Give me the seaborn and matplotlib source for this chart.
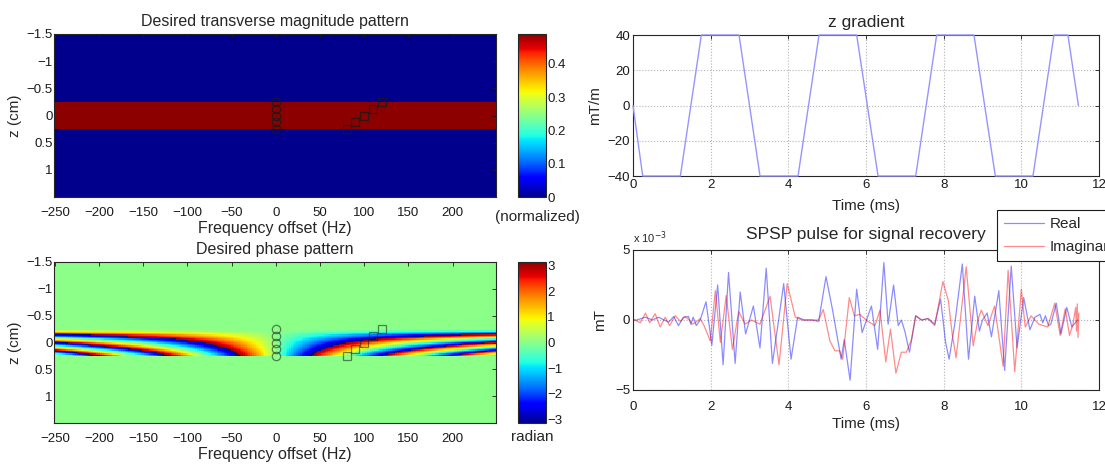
import numpy as np
import matplotlib
matplotlib.use('Agg')
import matplotlib.pyplot as plt
from matplotlib.colors import ListedColormap
import seaborn as sns

# ---- values ----
freq_ticks = [-250, -200, -150, -100, -50, 0, 50, 100, 150, 200]
z_ticks = [-1.5, -1, -0.5, 0, 0.5, 1]
band_z = [-0.25, 0.25]          # slab edges (cm)
band_mag = 0.49                 # normalized magnitude inside the slab
# per-row delay (ms) of the desired phase inside the slab, top row -> bottom row
row_delay_ms = [0.0, 0.34, 1.0, 1.7, 2.4, 3.0, 3.7, 4.4, 5.1, 5.7,
                6.4, 7.1, 7.8, 8.4, 9.1, 9.8, 10.5, 11.1, 11.8, 12.5]
circle_f = [0, 0, 0, 0, 0]
circle_z = [-0.25, -0.125, 0, 0.125, 0.25]
square_f = [80, 90, 100, 110, 120]
square_z = [0.25, 0.125, 0, -0.125, -0.25]

grad_t = [0, 0.25, 1.22, 1.76, 2.73, 3.27, 4.25, 4.79, 5.76, 6.31, 7.28,
          7.82, 8.78, 9.33, 10.30, 10.84, 11.2, 11.47]
grad_v = [0, -40, -40, 40, 40, -40, -40, 40, 40, -40, -40,
          40, 40, -40, -40, 40, 40, 0]

# SPSP pulse (x 1e-3 mT)
real_t = [0, 0.1, 0.32, 0.5, 0.66, 0.8, 0.92, 1.05, 1.17, 1.30, 1.43, 1.49, 1.55,
          1.63, 1.73, 1.88, 2.03, 2.18, 2.32, 2.46, 2.63, 2.76, 2.90, 3.10, 3.27,
          3.43, 3.59, 3.75, 3.88, 4.07, 4.24, 4.40, 4.60, 4.78, 4.97, 5.14, 5.36,
          5.44, 5.59, 5.76, 5.90, 6.14, 6.30, 6.46, 6.57, 6.71, 6.83, 6.91, 7.00,
          7.12, 7.28, 7.43, 7.60, 7.77, 7.92, 8.05, 8.14, 8.29, 8.48, 8.64, 8.80,
          8.92, 9.00, 9.12, 9.23, 9.42, 9.57, 9.74, 9.89, 10.06, 10.22, 10.35,
          10.48, 10.55, 10.62, 10.70, 10.76, 10.90, 11.02, 11.17, 11.30, 11.45]
real_v = [0, 0.0, 0.2, 0.0, 0.2, 0.0, -0.15, 0.25, -0.4, 0.2, 0.25, -0.3, 0.2,
          -0.4, 0.0, 1.3, -1.8, 2.5, -3.2, 3.4, -3.1, 2.0, -1.0, 1.0, -2.0,
          3.7, -3.1, 0.0, 2.6, -2.8, 0.2, 0.0, 0.0, -0.1, 3.1, 0.7, -2.8,
          -1.4, -4.3, 2.2, -0.9, 1.0, -2.1, 4.1, -0.3, 2.5, -0.4, 0.0, -0.8,
          -2.3, 0.3, 0.0, 0.1, -0.3, 1.5, -1.6, -2.8, -0.2, 4.0, -2.8, 1.7,
          -0.8, 0.0, 0.5, -1.2, 2.1, -3.6, 3.85, -2.0, 1.6, -0.7, 0.2,
          0.4, -0.2, 0.3, -0.4, -0.3, 1.2, -1.0, 0.9, -0.5, 0.0]
imag_t = [0, 0.19, 0.32, 0.43, 0.57, 0.70, 0.83, 0.94, 1.09, 1.22, 1.34, 1.45,
          1.52, 1.60, 1.73, 1.83, 1.99, 2.12, 2.25, 2.40, 2.56, 2.72, 2.89, 3.05,
          3.27, 3.53, 3.76, 3.97, 4.18, 4.35, 4.60, 4.78, 4.90, 5.07, 5.20, 5.32,
          5.40, 5.57, 5.70, 5.84, 6.05, 6.23, 6.36, 6.51, 6.63, 6.77, 6.91, 7.04,
          7.17, 7.28, 7.43, 7.60, 7.77, 7.98, 8.12, 8.22, 8.32, 8.58, 8.76, 8.88,
          8.97, 9.14, 9.31, 9.53, 9.66, 9.83, 10.0, 10.10, 10.25, 10.45, 10.68,
          10.86, 11.00, 11.13, 11.24, 11.33, 11.40, 11.42, 11.44, 11.46, 11.48]
imag_v = [0.05, -0.2, 0.5, -0.2, 0.45, -0.5, 0.2, -0.4, 0.3, -0.1, 0.25, 0.0,
          -0.3, -0.2, 0.1, -0.4, -1.5, 2.1, -1.6, 1.75, -2.1, 0.6, -0.3, 0.0,
          -0.3, 1.7, -3.2, 2.6, 0.2, 0.0, 0.0, 0.0, 0.75, -1.5, -2.2, -2.2,
          -2.8, 1.6, 0.3, 0.4, -0.1, -0.4, 0.7, -3.0, -0.65, -3.8, -2.3, -2.3,
          -1.4, 0.3, 0.0, 0.1, -0.4, 2.75, 1.4, -1.0, -2.7, 3.8, -1.85, 0.0,
          0.7, -0.4, 1.0, -3.3, 3.55, -3.7, 2.2, -0.5, 0.3, -0.3, -0.5,
          1.2, -1.1, 0.8, -1.1, -0.3, 0.9, -0.8, 1.15, -1.25, 0.5]

# ---- style ----
sns.set_theme(style='white')
plt.rcParams['font.family'] = ['Liberation Sans', 'DejaVu Sans']
plt.rcParams.update({
    'xtick.direction': 'in', 'ytick.direction': 'in',
    'xtick.top': True, 'ytick.right': True,
    'xtick.major.size': 3, 'ytick.major.size': 3,
    'xtick.major.width': 0.6, 'ytick.major.width': 0.6,
    'xtick.labelsize': 9.5, 'ytick.labelsize': 9.5,
    'axes.edgecolor': '0.15', 'axes.linewidth': 0.8,
    'axes.labelsize': 11, 'axes.titlesize': 11.5,
    'xtick.color': '0.1', 'ytick.color': '0.1',
})

# slightly lighter jet, like the screenshot
jet_soft = ListedColormap(plt.get_cmap('jet')(np.linspace(0, 1, 256))[:, :3] ** 0.85)

W, H = 1105, 466
fig = plt.figure(figsize=(W / 100, H / 100), dpi=100)

def box(x0, y0, x1, y1):
    return [x0 / W, 1 - y1 / H, (x1 - x0) / W, (y1 - y0) / H]

# image grids
freq = np.arange(-250, 250, 2)
z = np.linspace(-1.4875, 1.4875, 120)
in_band = (z > band_z[0]) & (z < band_z[1])
mag = np.zeros((z.size, freq.size))
mag[in_band] = band_mag
phase = np.zeros_like(mag)
delay = np.array(row_delay_ms)[:, None] * 1e-3
phase[in_band] = np.angle(np.exp(-2j * np.pi * freq[None, :] * delay))
extent = [-251, 249, 1.5, -1.5]

def image_panel(ax, data, vmin, vmax, title, mark_alpha):
    im = ax.imshow(data, extent=extent, cmap=jet_soft, vmin=vmin, vmax=vmax,
                   aspect='auto', interpolation='nearest')
    ax.plot(circle_f, circle_z, 'o', ms=6, mfc='none', mec='k', mew=0.9,
            alpha=mark_alpha, zorder=4)
    ax.plot(square_f, square_z, 's', ms=6, mfc='none', mec='k', mew=0.9,
            alpha=mark_alpha, zorder=4)
    ax.set_xlim(-251, 249)
    ax.set_ylim(1.5, -1.5)
    ax.set_xticks(freq_ticks)
    ax.set_yticks(z_ticks)
    ax.set_yticklabels(['\u22121.5', '\u22121', '\u22120.5', '0', '0.5', '1'])
    ax.tick_params(axis='x', pad=7)
    ax.tick_params(axis='y', pad=1)
    ax.set_xlabel('Frequency offset (Hz)', labelpad=2, fontsize=11.5)
    ax.set_ylabel('z (cm)', labelpad=3)
    ax.set_title(title, pad=6)
    return im

ax_mag = fig.add_axes(box(54, 34, 496, 197))
im = image_panel(ax_mag, mag, 0, band_mag, 'Desired transverse magnitude pattern', 0.8)
cax = fig.add_axes(box(518, 34, 546, 197))
cb = fig.colorbar(im, cax=cax, ticks=[0, 0.1, 0.2, 0.3, 0.4])
cb.ax.set_yticklabels(['0', '0.1', '0.2', '0.3', '0.4'])
cb.ax.tick_params(labelsize=9.5, direction='in', length=3, pad=1)
cb.outline.set_linewidth(0.8)
fig.text(537 / W, 1 - 217 / H, '(normalized)', ha='center', va='center', fontsize=11)

ax_ph = fig.add_axes(box(54, 262, 496, 423))
im = image_panel(ax_ph, phase, -np.pi, np.pi, 'Desired phase pattern', 0.55)
cax = fig.add_axes(box(518, 262, 546, 423))
cb = fig.colorbar(im, cax=cax, ticks=[-3, -2, -1, 0, 1, 2, 3])
cb.ax.set_yticklabels(['\u22123', '\u22122', '\u22121', '0', '1', '2', '3'])
cb.ax.tick_params(labelsize=9.5, direction='in', length=3, pad=1)
cb.outline.set_linewidth(0.8)
fig.text(532 / W, 1 - 437 / H, 'radian', ha='center', va='center', fontsize=11)

# z gradient
ax_g = fig.add_axes(box(633, 35, 1099, 176))
sns.lineplot(x=grad_t, y=grad_v, ax=ax_g, color='#9595ff', lw=1, estimator=None)
for ln in ax_g.lines:
    ln.set_clip_on(False)
    ln.set_zorder(5)
ax_g.set_xlim(0, 12)
ax_g.set_ylim(-40, 40)
ax_g.set_xticks(range(0, 13, 2))
ax_g.set_yticks([-40, -20, 0, 20, 40])
ax_g.grid(True, ls=':', color='0.7', lw=0.8)
ax_g.tick_params(axis='x', pad=2)
ax_g.tick_params(axis='y', pad=2)
ax_g.set_xlabel('Time (ms)', labelpad=6)
ax_g.set_ylabel('mT/m', labelpad=4)
ax_g.set_title('z gradient', fontsize=12.5, pad=6)

# SPSP pulse
ax_p = fig.add_axes(box(633, 250, 1099, 390))
sns.lineplot(x=real_t, y=real_v, ax=ax_p, color='blue', alpha=0.45, lw=0.9,
             estimator=None, label='Real')
sns.lineplot(x=imag_t, y=imag_v, ax=ax_p, color='red', alpha=0.45, lw=0.9,
             estimator=None, label='Imaginary')
ax_p.set_xlim(0, 12)
ax_p.set_ylim(-5, 5)
ax_p.set_xticks(range(0, 13, 2))
ax_p.set_yticks([-5, 0, 5])
ax_p.grid(True, ls=':', color='0.7', lw=0.8)
ax_p.tick_params(axis='x', pad=8)
ax_p.tick_params(axis='y', pad=2)
ax_p.set_xlabel('Time (ms)', labelpad=3)
ax_p.set_ylabel('mT', labelpad=6)
ax_p.set_title('SPSP pulse for signal recovery', fontsize=12.5, pad=8)
ax_p.text(0.0, 1.03, r'x 10$^{-3}$', transform=ax_p.transAxes, fontsize=8,
          ha='left', va='bottom')
handles, labels = ax_p.get_legend_handles_labels()
ax_p.get_legend().remove()
leg = fig.legend(handles, labels, loc='upper left', bbox_to_anchor=(997 / W, 1 - 210 / H),
                 borderaxespad=0, fontsize=11, frameon=True, fancybox=False,
                 edgecolor='k', framealpha=1, handlelength=2.6, handletextpad=0.4,
                 borderpad=0.45, labelspacing=0.6)
leg.get_frame().set_linewidth(0.8)

fig.savefig('out.png', dpi=100)
